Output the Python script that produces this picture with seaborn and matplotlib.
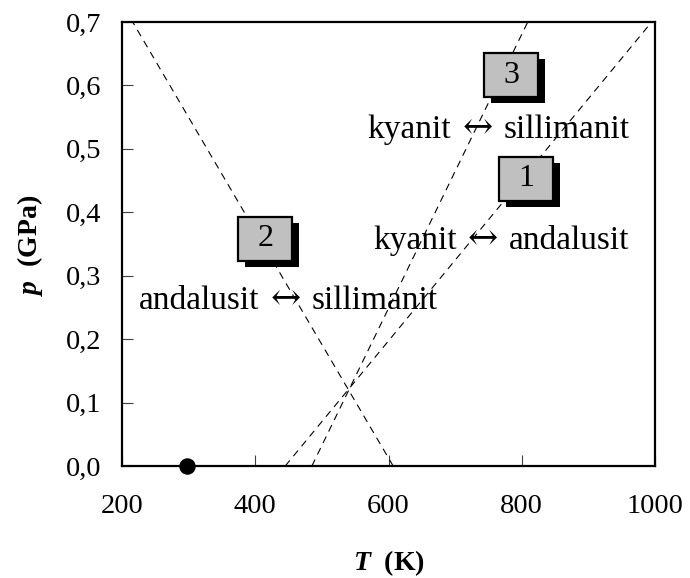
import numpy as np
import pandas as pd
import matplotlib
matplotlib.use("Agg")
import matplotlib.pyplot as plt
import seaborn as sns
from matplotlib.patches import Rectangle
from matplotlib.offsetbox import TextArea, HPacker, AnnotationBbox

# ---- data ----
reactions = ["kyanit ↔ andalusit", "andalusit ↔ sillimanit", "kyanit ↔ sillimanit"]
line_T0 = [445, 607, 485]      # T at p = 0 (start)
line_p0 = [0.0, 0.0, 0.0]
line_T1 = [995, 216, 809]      # T at end
line_p1 = [0.7, 0.7, 0.7]
point_T = [298]
point_p = [0.0]
box_labels = ["1", "2", "3"]
box_T = [807, 415, 784]
box_p = [0.4525, 0.358, 0.616]
text_T = [962, 225, 962]
text_p = [0.358, 0.263, 0.533]   # vertical centre of text
text_align = [1.0, 0.0, 1.0]
xticks = [200, 400, 600, 800, 1000]
yticks = [0.0, 0.1, 0.2, 0.3, 0.4, 0.5, 0.6, 0.7]

sns.set_style("ticks")
plt.rcParams["font.family"] = ["Liberation Serif", "DejaVu Serif"]
plt.rcParams["text.color"] = "black"
plt.rcParams["axes.labelcolor"] = "black"
plt.rcParams["mathtext.fontset"] = "custom"
plt.rcParams["mathtext.it"] = "Liberation Serif:italic:bold"
plt.rcParams["mathtext.rm"] = "Liberation Serif:bold"
plt.rcParams["mathtext.bf"] = "Liberation Serif:bold"

fig = plt.figure(figsize=(6.9, 5.78), dpi=100)
ax = fig.add_axes([122/690, 1-466/578, (655-122)/690, (466-22)/578])

rows = []
for name, a, b, c, d in zip(reactions, line_T0, line_p0, line_T1, line_p1):
    rows.append({"reaction": name, "T": a, "p": b})
    rows.append({"reaction": name, "T": c, "p": d})
df = pd.DataFrame(rows)
for name in reactions:
    sub = df[df["reaction"] == name]
    sns.lineplot(data=sub, x="T", y="p", ax=ax, color="black", lw=0.8,
                 linestyle=(0, (6.5, 5)), sort=False, estimator=None, legend=False)

sns.scatterplot(x=point_T, y=point_p, ax=ax, s=120, color="black",
                edgecolor="black", clip_on=False, zorder=10, legend=False)

ax.set_xlim(200, 1000)
ax.set_ylim(0, 0.7)
ax.set_xticks(xticks)
ax.set_yticks(yticks)
ax.set_xticklabels([str(t) for t in xticks])
ax.set_yticklabels([f"{v:.1f}".replace(".", ",") for v in yticks])
ax.tick_params(axis="both", direction="in", length=8, width=0.8, color="#404040",
               labelsize=20.5, labelcolor="black")
ax.tick_params(axis="x", pad=20)
ax.tick_params(axis="y", pad=15)
for s in ax.spines.values():
    s.set_visible(True)
    s.set_color("black")
    s.set_linewidth(1.6)
ax.grid(False)

ax.set_xlabel(r"$T$  (K)", fontsize=20, fontweight="bold", va="center", color="black")
ax.set_ylabel(r"$p$  (GPa)", fontsize=20, fontweight="bold", va="center", color="black")
ax.xaxis.set_label_coords(0.501, -0.218)
ax.yaxis.set_label_coords(-0.1726, 0.498)

# numbered boxes with shadow
bw, bh = 81, 0.069          # box size in data units
sdx, sdy = 10.5, -0.0095    # shadow offset
for lab, t, p in zip(box_labels, box_T, box_p):
    ax.add_patch(Rectangle((t - bw/2 + sdx, p - bh/2 + sdy), bw, bh,
                           facecolor="black", edgecolor="black", lw=0, zorder=5))
    ax.add_patch(Rectangle((t - bw/2, p - bh/2), bw, bh,
                           facecolor="#c0c0c0", edgecolor="black", lw=1.6, zorder=6))
    ax.text(t, p, lab, ha="center", va="center", fontsize=23, color="black", zorder=7)

tprops = dict(fontsize=24, color="black", family="Liberation Serif")
aprops = dict(fontsize=26, color="black", family="DejaVu Serif")
for txt, t, p, al in zip(reactions, text_T, text_p, text_align):
    left, right = [s.strip() for s in txt.split("↔")]
    pack = HPacker(children=[TextArea(left, textprops=tprops),
                             TextArea("↔", textprops=aprops),
                             TextArea(right, textprops=tprops)],
                   align="baseline", pad=0, sep=8)
    ab = AnnotationBbox(pack, (t, p), xycoords="data", box_alignment=(al, 0.5),
                        frameon=False, pad=0, zorder=4)
    ax.add_artist(ab)

fig.savefig("out.png", dpi=100)
